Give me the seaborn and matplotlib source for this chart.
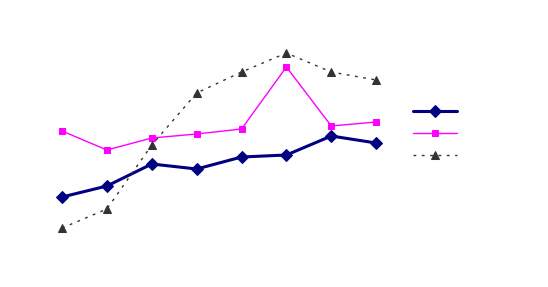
import matplotlib
matplotlib.use("Agg")
import matplotlib.pyplot as plt
import seaborn as sns
import pandas as pd

categories = ["1", "2", "3", "4", "5", "6", "7", "8"]
series_a = [53, 64, 86, 81, 93, 95, 114, 107]
series_b = [119, 100, 112, 116, 121, 183, 124, 128]
series_c = [22, 41, 105, 157, 178, 197, 178, 170]

sns.set_theme(style="white")

fig = plt.figure(figsize=(5.48, 2.87), dpi=100)
W, H = 548, 287
ax = fig.add_axes([39.6 / W, (287 - 250) / H, 359 / W, 220 / H])

x = list(range(len(categories)))
df = pd.DataFrame({"x": x * 3,
                   "v": series_a + series_b + series_c,
                   "s": ["a"] * 8 + ["b"] * 8 + ["c"] * 8})

sns.lineplot(data=df[df.s == "a"], x="x", y="v", ax=ax, color="#000080",
             linewidth=2.2, marker="D", markersize=6.5, markeredgecolor="#000080")
sns.lineplot(data=df[df.s == "b"], x="x", y="v", ax=ax, color="#FF00FF",
             linewidth=1.0, marker="s", markersize=5, markeredgecolor="#FF00FF")
sns.lineplot(data=df[df.s == "c"], x="x", y="v", ax=ax, color="#333333",
             linewidth=1.0, marker="^", markersize=5.5, markeredgecolor="#333333",
             dashes=(2, 4))

ax.set_xlim(-0.5, 7.5)
ax.set_ylim(0, 220)
ax.axis("off")

handles = list(ax.lines[:3])
ax.legend(handles, [" ", " ", " "], frameon=False, handlelength=2.88,
          loc="center left", bbox_to_anchor=(405 / W, (287 - 134) / H),
          bbox_transform=fig.transFigure, labelspacing=0.45, handletextpad=0.2,
          borderpad=0)

fig.savefig("out.png", dpi=100, facecolor="white")
